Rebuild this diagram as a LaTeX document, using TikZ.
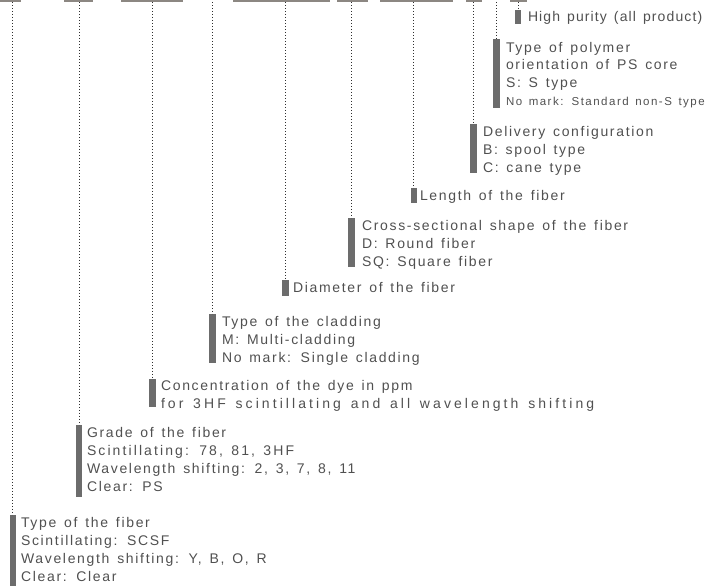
\documentclass[tikz,border=0pt]{standalone}
\usepackage{fontspec}
\setmainfont{Liberation Sans}[LetterSpace=12,WordSpace=1.4]
\definecolor{txtc}{HTML}{505050}
\definecolor{markc}{HTML}{6C6C6C}
\definecolor{topc}{HTML}{8C8782}
\definecolor{dotc}{HTML}{303030}
\newcommand{\fs}{\rule{0pt}{13pt}}
\newcommand{\wide}[2]{{\addfontfeature{LetterSpace=#1}#2}}
\begin{document}
\begin{tikzpicture}[x=1pt,y=-1pt,
  topbar/.style={fill=topc, draw=none, inner sep=0, outer sep=0, minimum height=2pt, anchor=north west},
  marker/.style={fill=markc, draw=none, inner sep=0, outer sep=0, anchor=north},
  lbl/.style={anchor=north west, inner sep=0, outer sep=0, align=left, text=txtc, font=\fontsize{14}{18}\selectfont},
  guide/.style={draw=dotc, line width=0.8pt, dash pattern=on 0.8pt off 2.2pt}]
\useasboundingbox (0,0) rectangle (721,586);
% top bars
\node[topbar, minimum width=21pt] (t1) at (0,0) {};
\node[topbar, minimum width=29pt] (t2) at (64,0) {};
\node[topbar, minimum width=62pt] (t3) at (121,0) {};
\coordinate (t4) at (212,2);
\node[topbar, minimum width=97pt] (t5) at (233,0) {};
\node[topbar, minimum width=31pt] (t6) at (337,0) {};
\node[topbar, minimum width=73pt] (t7) at (380,0) {};
\node[topbar, minimum width=16pt] (t8) at (466,0) {};
\coordinate (t9) at (496,2);
\node[topbar, minimum width=17pt] (t10) at (510,0) {};
% markers
\node[marker, minimum width=6pt, minimum height=71pt] (m1) at (12.5,515) {};
\node[marker, minimum width=6pt, minimum height=72pt] (m2) at (79,425) {};
\node[marker, minimum width=7pt, minimum height=28pt] (m3) at (152.5,379) {};
\node[marker, minimum width=7pt, minimum height=49pt] (m4) at (212,314) {};
\node[marker, minimum width=7pt, minimum height=16pt] (m5) at (285.5,280) {};
\node[marker, minimum width=7pt, minimum height=49pt] (m6) at (351,218) {};
\node[marker, minimum width=6pt, minimum height=15pt] (m7) at (413.5,188) {};
\node[marker, minimum width=7pt, minimum height=49pt] (m8) at (473,124) {};
\node[marker, minimum width=7pt, minimum height=69pt] (m9) at (496,39) {};
\node[marker, minimum width=6pt, minimum height=14pt] (m10) at (518,10) {};
% guides
\draw[guide] (t1.south -| m1.north) -- (m1.north);
\draw[guide] (t2.south -| m2.north) -- (m2.north);
\draw[guide] (t3.south -| m3.north) -- (m3.north);
\draw[guide] (t4) -- (m4.north);
\draw[guide] (t5.south -| m5.north) -- (m5.north);
\draw[guide] (t6.south -| m6.north) -- (m6.north);
\draw[guide] (t7.south -| m7.north) -- (m7.north);
\draw[guide] (t8.south -| m8.north) -- (m8.north);
\draw[guide] (t9) -- (m9.north);
\draw[guide] (t10.south -| m10.north) -- (m10.north);
% labels
\node[lbl] (l1) at (21,514) {\fs Type of the fiber\\Scintillating: SCSF\\Wavelength shifting: Y, B, O, R\\Clear: Clear};
\node[lbl] (l2) at (87,424) {\fs Grade of the fiber\\\wide{15}{Scintillating: 78, 81, 3HF}\\Wavelength shifting: 2, 3, 7, 8, 11\\Clear: PS};
\node[lbl] (l3) at (161,377) {\fs Concentration of the dye in ppm\\\wide{22}{for 3HF scintillating and all wavelength shifting}};
\node[lbl] (l4) at (222,313) {\fs Type of the cladding\\M: Multi-cladding\\No mark: Single cladding};
\node[lbl] (l5) at (293,279) {\fs Diameter of the fiber};
\node[lbl] (l6) at (362,217) {\fs Cross-sectional shape of the fiber\\D: Round fiber\\SQ: Square fiber};
\node[lbl] (l7) at (420,187) {\fs Length of the fiber};
\node[lbl] (l8) at (483,123) {\fs Delivery configuration\\B: spool type\\C: cane type};
\node[lbl] (l9) at (506,39) {\fs Type of polymer\\orientation of PS core\\S: S type\\{\fontsize{11.5}{18}\selectfont\addfontfeature{LetterSpace=13}No mark: Standard non-S type}};
\node[lbl] (l10) at (528,9) {\fs\wide{8}{High purity (all product)}};
\end{tikzpicture}
\end{document}
